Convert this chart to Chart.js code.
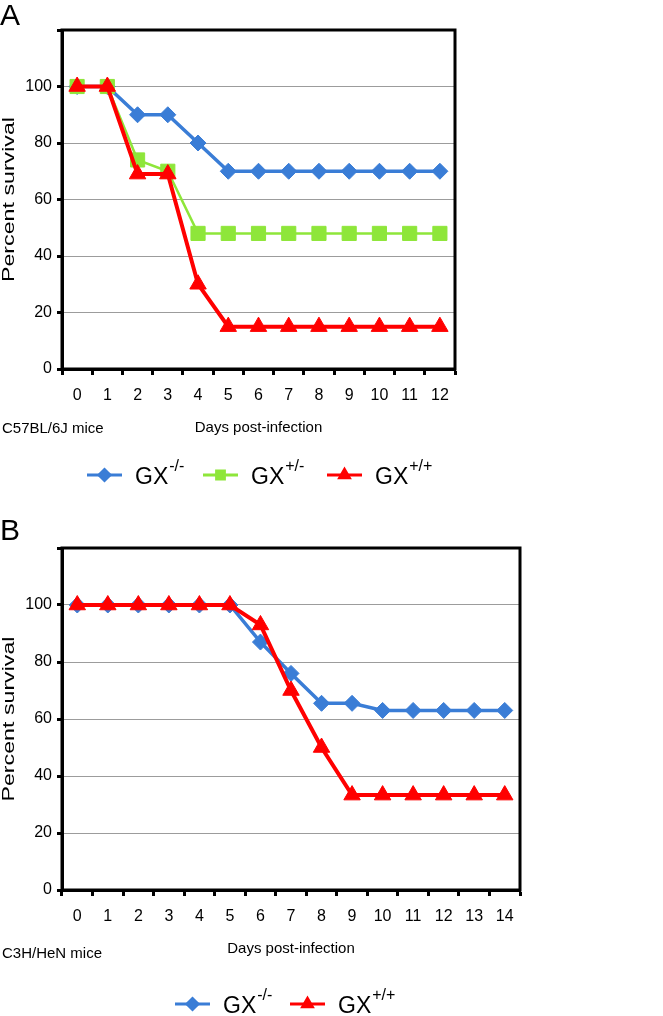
<!DOCTYPE html>
<html>
<head>
<meta charset="utf-8">
<script src="https://cdn.jsdelivr.net/npm/chart.js@4/dist/chart.umd.min.js"></script>
<style>
  html, body { margin: 0; padding: 0; background: #fff; }
  body { width: 663px; height: 1016px; position: relative; overflow: hidden; }
  .panel { position: absolute; left: 0; width: 663px; }
  #panelA { top: 0; height: 500px; }
  #panelB { top: 500px; height: 516px; }
</style>
</head>
<body>
<div class="panel" id="panelA"><canvas id="chartA"></canvas></div>
<div class="panel" id="panelB"><canvas id="chartB"></canvas></div>
<script>
// Panel A - C57BL/6J mice
const daysA = ['0', '1', '2', '3', '4', '5', '6', '7', '8', '9', '10', '11', '12'];
const koA  = [100, 100, 90, 90, 80, 70, 70, 70, 70, 70, 70, 70, 70];
const hetA = [100, 100, 74, 70, 48, 48, 48, 48, 48, 48, 48, 48, 48];
const wtA  = [100, 100, 69, 69, 30, 15, 15, 15, 15, 15, 15, 15, 15];

// Panel B - C3H/HeN mice
const daysB = ['0', '1', '2', '3', '4', '5', '6', '7', '8', '9', '10', '11', '12', '13', '14'];
const koB = [100, 100, 100, 100, 100, 100, 87, 76, 65.5, 65.5, 63, 63, 63, 63, 63];
const wtB = [100, 100, 100, 100, 100, 100, 93, 70, 50, 33.3, 33.3, 33.3, 33.3, 33.3, 33.3];

const yTickLabels = [0, 20, 40, 60, 80, 100];

const BLUE = '#3a7dd6';
const GREEN = '#8ee63a';
const RED = '#ff0000';
const FONT = "'Liberation Sans', Arial, sans-serif";

Chart.defaults.font.family = FONT;
Chart.defaults.color = '#000';

// draws the box, panel letter, y title, strain text and the legend with superscripts
const figurePlugin = {
    id: 'figure',
    afterDraw(chart, args, opts) {
        const { ctx, chartArea: a } = chart;
        ctx.save();

        ctx.strokeStyle = '#000';
        ctx.lineWidth = 3;
        ctx.strokeRect(a.left, a.top, a.right - a.left, a.bottom - a.top);

        ctx.fillStyle = '#000';
        ctx.textBaseline = 'alphabetic';
        ctx.textAlign = 'left';
        ctx.font = '30px ' + FONT;
        ctx.fillText(opts.panel, 0, opts.panelY);

        ctx.font = '15px ' + FONT;
        ctx.fillText(opts.strain, 2, opts.strainY);

        // y axis title, stretched along its length like the original figure
        ctx.save();
        ctx.translate(10, (a.top + a.bottom) / 2);
        ctx.rotate(-Math.PI / 2);
        ctx.scale(1.45, 1);
        ctx.textAlign = 'center';
        ctx.textBaseline = 'middle';
        ctx.font = '16px ' + FONT;
        ctx.fillText('Percent survival', 0, 0);
        ctx.restore();

        opts.legend.forEach(item => {
            const x = item.x;
            const y = opts.legendY;
            ctx.strokeStyle = item.color;
            ctx.lineWidth = 3;
            ctx.beginPath();
            ctx.moveTo(x, y);
            ctx.lineTo(x + 35, y);
            ctx.stroke();
            ctx.fillStyle = item.color;
            ctx.strokeStyle = item.color;
            Chart.helpers.drawPoint(ctx, { pointStyle: item.style, radius: 5.5, rotation: 0, borderWidth: 1 }, x + 17.5, y);

            ctx.fillStyle = '#000';
            ctx.font = '23px ' + FONT;
            ctx.fillText(item.label, x + 48, y + 9);
            const w = ctx.measureText(item.label).width;
            ctx.font = '16px ' + FONT;
            ctx.fillText(item.sup, x + 49 + w, y - 4);
        });
        ctx.restore();
    }
};

function makeDataset(label, data, color, style, radius, width, order) {
    return {
        label: label,
        data: data,
        borderColor: color,
        backgroundColor: color,
        borderWidth: width,
        pointStyle: style,
        pointRadius: radius,
        pointHoverRadius: radius,
        pointBorderWidth: 1,
        pointBackgroundColor: color,
        pointBorderColor: color,
        tension: 0,
        order: order
    };
}

function makeOptions(padding, plotOpts) {
    return {
        responsive: true,
        maintainAspectRatio: false,
        animation: false,
        layout: { padding: padding },
        plugins: {
            legend: { display: false },
            tooltip: { enabled: false },
            figure: plotOpts
        },
        scales: {
            x: {
                type: 'category',
                offset: true,
                afterFit: scale => { scale.height = 68; },
                grid: {
                    display: true,
                    drawOnChartArea: false,
                    drawTicks: true,
                    offset: true,
                    tickLength: 6,
                    tickWidth: 3,
                    tickColor: '#000'
                },
                border: { display: true, color: '#000', width: 3 },
                ticks: {
                    autoSkip: false,
                    maxRotation: 0,
                    padding: 11,
                    color: '#000',
                    font: { size: 16 }
                },
                title: {
                    display: true,
                    text: 'Days post-infection',
                    color: '#000',
                    font: { size: 15 },
                    padding: 0
                }
            },
            y: {
                min: 0,
                max: 120,
                afterFit: scale => { scale.width = 62; },
                grid: {
                    color: '#9c9c9c',
                    lineWidth: 1,
                    tickLength: 5,
                    tickWidth: 3,
                    tickColor: '#000'
                },
                border: { display: true, color: '#000', width: 3 },
                ticks: {
                    stepSize: 20,
                    padding: 5,
                    color: '#000',
                    font: { size: 16 },
                    callback: value => yTickLabels.includes(value) ? String(value) : ''
                },
                title: { display: false }
            }
        }
    };
}

new Chart(document.getElementById('chartA').getContext('2d'), {
    type: 'line',
    data: {
        labels: daysA,
        datasets: [
            makeDataset('GX-/-', koA, BLUE, 'rectRot', 8, 3.5, 3),
            makeDataset('GX+/-', hetA, GREEN, 'rect', 10, 2.5, 2),
            makeDataset('GX+/+', wtA, RED, 'triangle', 9.5, 4, 1)
        ]
    },
    options: makeOptions({ left: 0, top: 30, right: 208, bottom: 63 }, {
        panel: 'A',
        panelY: 25,
        strain: 'C57BL/6J mice',
        strainY: 433,
        legendY: 475,
        legend: [
            { x: 87, label: 'GX', sup: '-/-', color: BLUE, style: 'rectRot' },
            { x: 203, label: 'GX', sup: '+/-', color: GREEN, style: 'rect' },
            { x: 327, label: 'GX', sup: '+/+', color: RED, style: 'triangle' }
        ]
    }),
    plugins: [figurePlugin]
});

new Chart(document.getElementById('chartB').getContext('2d'), {
    type: 'line',
    data: {
        labels: daysB,
        datasets: [
            makeDataset('GX-/-', koB, BLUE, 'rectRot', 8, 3.5, 2),
            makeDataset('GX+/+', wtB, RED, 'triangle', 9.5, 4, 1)
        ]
    },
    options: makeOptions({ left: 0, top: 48, right: 143, bottom: 58 }, {
        panel: 'B',
        panelY: 40,
        strain: 'C3H/HeN mice',
        strainY: 458,
        legendY: 504,
        legend: [
            { x: 175, label: 'GX', sup: '-/-', color: BLUE, style: 'rectRot' },
            { x: 290, label: 'GX', sup: '+/+', color: RED, style: 'triangle' }
        ]
    }),
    plugins: [figurePlugin]
});
</script>
</body>
</html>
